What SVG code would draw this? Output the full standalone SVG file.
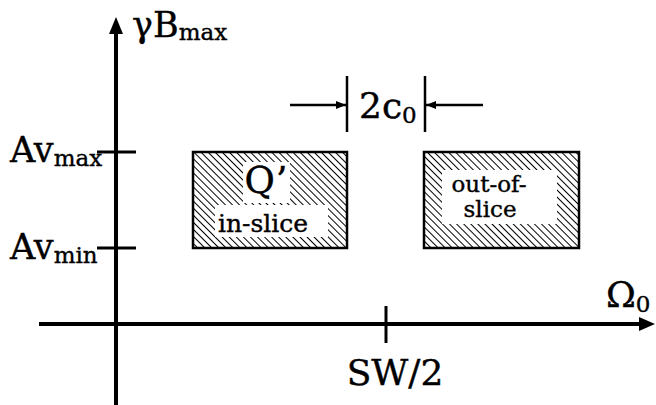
<svg xmlns="http://www.w3.org/2000/svg" width="656" height="405" viewBox="0 0 656 405">
<style>
.t{font-family:"DejaVu Serif","Liberation Serif",serif;fill:#000;stroke:#000;stroke-width:0.4}
.ax{stroke:#000;stroke-width:4;fill:none}
.tk{stroke:#000;stroke-width:3;fill:none}
.dim{stroke:#000;stroke-width:2.5;fill:none}
.box{stroke:#000;stroke-width:2.5;fill:url(#hatch)}
</style>
<defs>
<pattern id="hatch" patternUnits="userSpaceOnUse" width="5" height="5" patternTransform="rotate(45)">
<rect width="5" height="5" fill="#fff"/>
<line x1="0" y1="0.5" x2="5" y2="0.5" stroke="#000" stroke-width="1"/>
</pattern>
<marker id="ah" viewBox="0 0 10 10" refX="10" refY="5" markerWidth="10" markerHeight="10" markerUnits="userSpaceOnUse" orient="auto">
<path d="M0,1 L10,5 L0,9 Z" fill="#000"/>
</marker>
</defs>
<rect width="656" height="405" fill="#fff"/>
<g id="connectors">
<line class="ax" x1="116" y1="405" x2="116" y2="30"/>
<path d="M116,17 L109,34 L123,34 Z" fill="#000"/>
<line class="ax" x1="39" y1="324" x2="642" y2="324"/>
<path d="M655,324 L639,317 L639,331 Z" fill="#000"/>
<line class="tk" x1="97" y1="152" x2="136" y2="152"/>
<line class="tk" x1="97" y1="248" x2="136" y2="248"/>
<line class="tk" x1="386" y1="306" x2="386" y2="343"/>
<line class="dim" x1="347" y1="76" x2="347" y2="132"/>
<line class="dim" x1="425" y1="76" x2="425" y2="132"/>
<line class="dim" x1="290" y1="105" x2="346" y2="105" marker-end="url(#ah)"/>
<line class="dim" x1="483" y1="105" x2="426" y2="105" marker-end="url(#ah)"/>
</g>
<g id="in-slice">
<rect class="box" x="193" y="152" width="154" height="96"/>
<rect x="243" y="162" width="47" height="41" fill="#fff"/>
<rect x="215" y="205" width="113" height="32" fill="#fff"/>
<text class="t" x="266" y="193" font-size="37" text-anchor="middle">Q’</text>
<text class="t" x="263" y="232" font-size="25" text-anchor="middle">in-slice</text>
</g>
<g id="out-of-slice">
<rect class="box" x="424" y="152" width="155" height="96"/>
<rect x="442" y="170" width="115" height="54" fill="#fff"/>
<text class="t" font-size="23" text-anchor="middle"><tspan x="489" y="192">out-of-</tspan><tspan x="490" y="217">slice</tspan></text>
</g>
<g id="labels">
<text class="t" x="132" y="37" font-size="35">γB<tspan font-size="23" dy="3">max</tspan></text>
<text class="t" x="10" y="162" font-size="35">Av<tspan font-size="23" dy="4">max</tspan></text>
<text class="t" x="10" y="259" font-size="35">Av<tspan font-size="23" dy="4">min</tspan></text>
<text class="t" x="359" y="118" font-size="36">2c<tspan font-size="23" dy="5">0</tspan></text>
<text class="t" x="606" y="307" font-size="36">Ω<tspan font-size="23" dy="5">0</tspan></text>
<text class="t" x="395" y="385" font-size="36" text-anchor="middle">SW/2</text>
</g>
</svg>
